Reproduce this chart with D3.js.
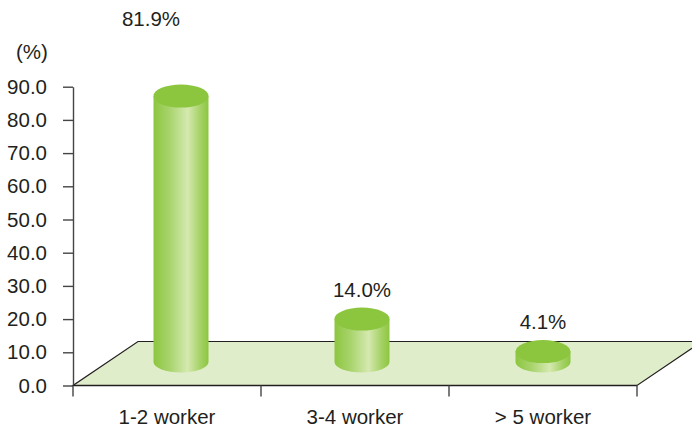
<!DOCTYPE html>
<html>
<head>
<meta charset="utf-8">
<script src="https://cdn.jsdelivr.net/npm/d3@7"></script>
<style>
  body { margin: 0; background: #fff; }
  text { font-family: "Liberation Sans", Arial, sans-serif; fill: #231f20; }
</style>
</head>
<body>
<div class="chart"></div>
<script>
// data
var categories = ["1-2 worker", "3-4 worker", "> 5 worker"];
var values = [81.9, 14.0, 4.1];
var yTicks = [0, 10, 20, 30, 40, 50, 60, 70, 80, 90];

var svgWidth = 692;
var svgHeight = 431;

var svg = d3.select(".chart")
  .append("svg")
  .attr("width", svgWidth)
  .attr("height", svgHeight);

// plot frame
var x0 = 73, x1 = 637;
var yScale = d3.scaleLinear().domain([0, 90]).range([385.5, 86.7]);
var xScale = d3.scaleBand().domain(categories).range([x0, x1]);
// depth of the 3d floor
var depthX = 65, depthY = -44;

// cylinders sit half way back on the floor
var cylX = d3.scalePoint().domain(categories).range([181, 543]);
var cylTop = d3.scaleLinear().domain([0, 90]).range([365, 69.4]);
var cylBase = 362;
var rx = 27.5, ryTop = 11.5, ryBot = 10.5;

// gradient for the cylinder body
var defs = svg.append("defs");
var grad = defs.append("linearGradient")
  .attr("id", "cyl")
  .attr("x1", "0%").attr("x2", "100%")
  .attr("y1", "0%").attr("y2", "0%");
grad.append("stop").attr("offset", "0%").attr("stop-color", "#8cc63f");
grad.append("stop").attr("offset", "30%").attr("stop-color", "#a9d46e");
grad.append("stop").attr("offset", "62%").attr("stop-color", "#d5e9b0");
grad.append("stop").attr("offset", "85%").attr("stop-color", "#a5d266");
grad.append("stop").attr("offset", "100%").attr("stop-color", "#8cc63f");

// floor
var fy = yScale(0);
var floorPts = [[x0, fy], [x1, fy], [x1 + depthX, fy + depthY], [x0 + depthX, fy + depthY]];
svg.append("path")
  .attr("d", d3.line()(floorPts) + "Z")
  .attr("fill", "#e0edcb")
  .attr("stroke", "#231f20")
  .attr("stroke-width", 1.2);

// y axis
var leftAxis = d3.axisLeft(yScale)
  .tickValues(yTicks)
  .tickFormat(d3.format(".1f"))
  .tickSize(10)
  .tickSizeOuter(0)
  .tickPadding(16);

var yAxisG = svg.append("g")
  .attr("transform", `translate(${x0}, 0)`)
  .call(leftAxis);
yAxisG.select(".domain").attr("stroke", "#444").attr("stroke-width", 1.4);
yAxisG.selectAll(".tick line").attr("stroke", "#444").attr("stroke-width", 1.4);
yAxisG.selectAll(".tick text")
  .attr("font-size", "20.5px")
  .attr("font-family", "Liberation Sans, Arial, sans-serif")
  .attr("fill", "#231f20");

// x axis line and boundary ticks
var bounds = categories.map(c => xScale(c)).concat([x1]);
svg.append("line")
  .attr("x1", x0).attr("x2", x1)
  .attr("y1", fy).attr("y2", fy)
  .attr("stroke", "#231f20").attr("stroke-width", 1.4);
svg.selectAll(".xtick")
  .data(bounds)
  .enter()
  .append("line")
  .attr("class", "xtick")
  .attr("x1", d => d).attr("x2", d => d)
  .attr("y1", fy).attr("y2", fy + 11)
  .attr("stroke", "#444").attr("stroke-width", 1.4);

svg.selectAll(".xlabel")
  .data(categories)
  .enter()
  .append("text")
  .attr("class", "xlabel")
  .attr("x", d => xScale(d) + xScale.bandwidth() / 2)
  .attr("y", 423.5)
  .attr("text-anchor", "middle")
  .attr("font-size", "20.5px")
  .text(d => d);

// y axis title
svg.append("text")
  .attr("x", 16)
  .attr("y", 59)
  .attr("font-size", "20.5px")
  .text("(%)");

// cylinders
var data = categories.map((c, i) => ({ cat: c, value: values[i] }));

var cyl = svg.selectAll(".cyl")
  .data(data)
  .enter()
  .append("g")
  .attr("class", "cyl");

cyl.append("path")
  .attr("d", function(d) {
    var cx = cylX(d.cat), ty = cylTop(d.value);
    return `M${cx - rx},${ty} L${cx - rx},${cylBase}` +
      ` A${rx},${ryBot} 0 0 0 ${cx + rx},${cylBase}` +
      ` L${cx + rx},${ty} Z`;
  })
  .attr("fill", "url(#cyl)");

cyl.append("ellipse")
  .attr("cx", d => cylX(d.cat))
  .attr("cy", d => cylTop(d.value))
  .attr("rx", rx)
  .attr("ry", ryTop)
  .attr("fill", "#8cc63f");

// value labels; a label that would run into the axis top goes up to the top margin
cyl.append("text")
  .attr("x", function(d) {
    var ly = cylTop(d.value) - ryTop - 11;
    return ly < yScale(90) ? cylX(d.cat) - 30 : cylX(d.cat);
  })
  .attr("y", function(d) {
    var ly = cylTop(d.value) - ryTop - 11;
    return ly < yScale(90) ? 26 : ly;
  })
  .attr("text-anchor", "middle")
  .attr("font-size", "20.5px")
  .text(d => d3.format(".1f")(d.value) + "%");
</script>
</body>
</html>
